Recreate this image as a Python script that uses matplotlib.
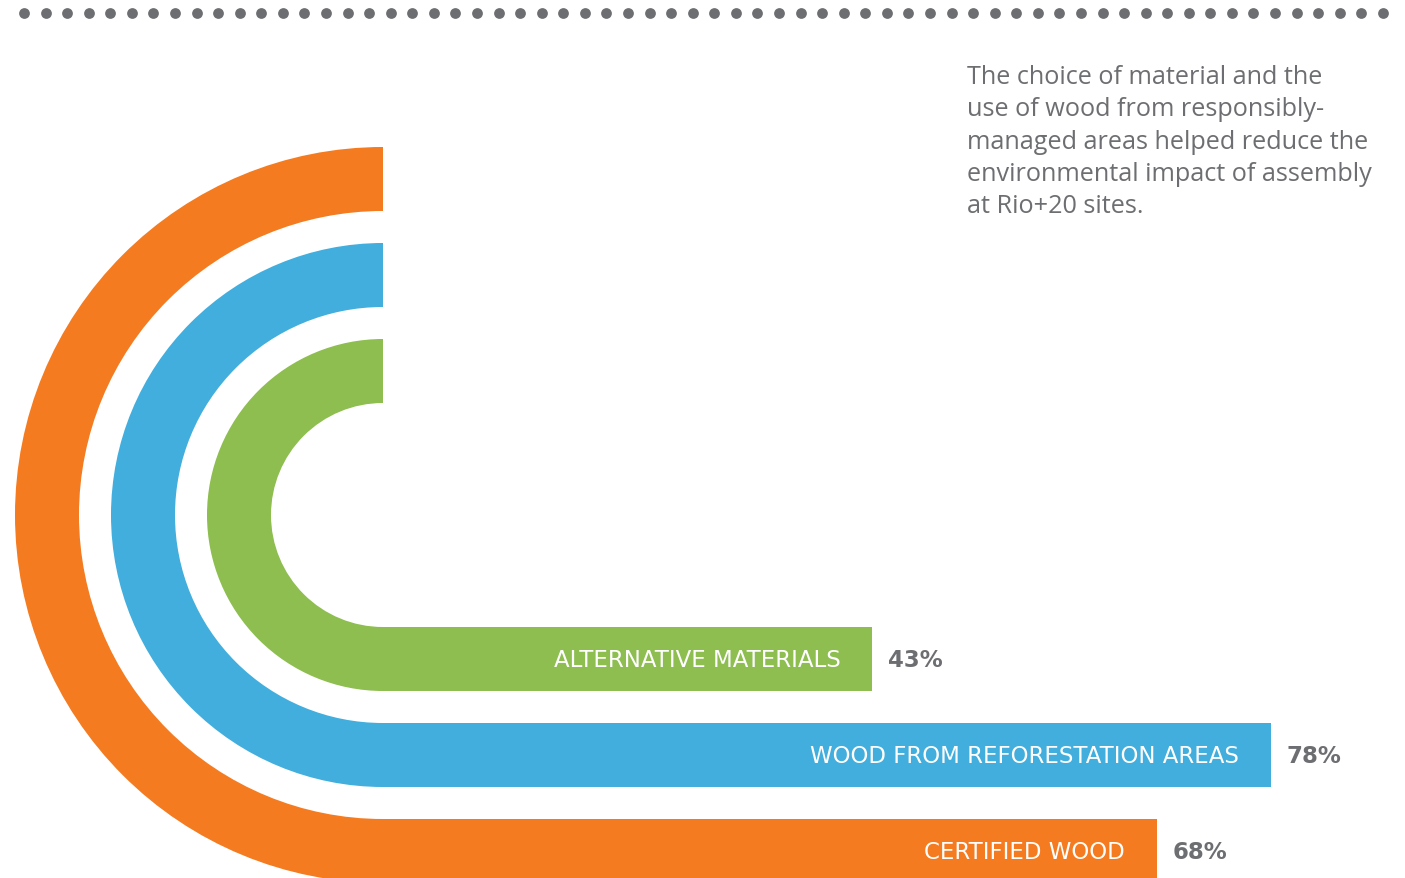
import numpy as np
import matplotlib.pyplot as plt
from matplotlib.patches import Wedge

categories = ["ALTERNATIVE MATERIALS", "WOOD FROM REFORESTATION AREAS", "CERTIFIED WOOD"]
values = [43, 78, 68]
colors = ["#8DBE4F", "#41AEDD", "#F47B20"]
note = ("The choice of material and the\n"
        "use of wood from responsibly-\n"
        "managed areas helped reduce the\n"
        "environmental impact of assembly\n"
        "at Rio+20 sites.")

grey = "#6D6E71"
cx, cy = 383, 516          # centre of the arcs, pixels
band = 64                  # band thickness
outer = [176, 272, 368]    # outer radius of each band
px_per_pct = 11.38

fig = plt.figure(figsize=(14.05, 8.79), dpi=100)
ax = fig.add_axes([0, 0, 1, 1])
ax.set_xlim(0, 1405)
ax.set_ylim(879, 0)
ax.axis('off')

# dotted rule on top
dots_x = np.arange(24, 1400, 21.57)
ax.scatter(dots_x, np.full_like(dots_x, 14), s=60, color=grey, linewidths=0)

for name, val, col, r in zip(categories, values, colors, outer):
    ax.add_patch(Wedge((cx, cy), r, 90, 270, width=band, facecolor=col, linewidth=0))
    yc = cy + r - band / 2
    length = val * px_per_pct
    ax.barh(yc, length + 1, left=cx - 1, height=band, color=col, linewidth=0)
    end = cx + length
    ax.text(end - 32, yc + 1, name, ha='right', va='center', color='white',
            fontsize=16.5, family='DejaVu Sans')
    ax.text(end + 16, yc + 1, f"{val}%", ha='left', va='center', color=grey,
            fontsize=16.5, family='DejaVu Sans', fontweight='bold')

ax.text(967, 65, note, ha='left', va='top', color=grey, fontsize=18.2,
        family='Open Sans', linespacing=1.385)

fig.savefig("out.png", dpi=100)
